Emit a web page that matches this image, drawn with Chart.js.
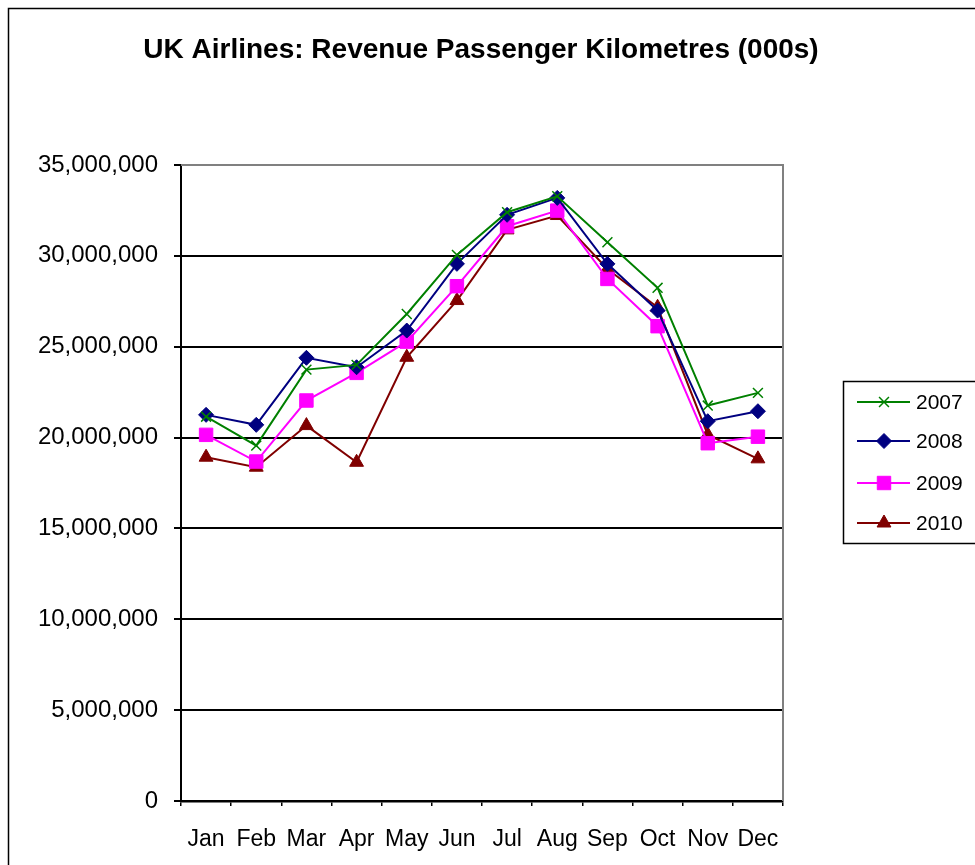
<!DOCTYPE html>
<html>
<head>
<meta charset="utf-8">
<script src="https://cdn.jsdelivr.net/npm/chart.js@4/dist/chart.umd.min.js"></script>
<style>
html,body{margin:0;padding:0;background:#fff;}
#wrap{width:975px;height:865px;position:relative;}
</style>
</head>
<body>
<div id="wrap"><canvas id="c" width="975" height="865"></canvas></div>
<script>
const titleText = "UK Airlines: Revenue Passenger Kilometres (000s)";
const months = ["Jan","Feb","Mar","Apr","May","Jun","Jul","Aug","Sep","Oct","Nov","Dec"];
const yTicks = [0, 5000000, 10000000, 15000000, 20000000, 25000000, 30000000, 35000000];
const seriesNames = ["2007","2008","2009","2010"];
const rpk2007 = [21150000,19560000,23740000,24000000,26800000,30050000,32400000,33280000,30750000,28240000,21760000,22460000];
const rpk2008 = [21250000,20700000,24390000,23870000,25890000,29560000,32260000,33190000,29560000,26990000,20900000,21450000];
const rpk2009 = [20150000,18680000,22040000,23560000,25280000,28330000,31630000,32490000,28730000,26130000,19690000,20050000];
const rpk2010 = [18920000,18370000,20660000,18640000,24420000,27540000,31430000,32220000,29280000,27170000,20160000,18830000];

const colors = ["#008000","#000080","#FF00FF","#800000"];
const styles = ["crossRot","rectRot","rect","triangle"];
const radii = [7,7.5,9.5,8];
const values = [rpk2007,rpk2008,rpk2009,rpk2010];
const FONT = '"Liberation Sans", Arial, sans-serif';

const datasets = seriesNames.map((n,i)=>({
  label:n,
  data:values[i],
  borderColor:colors[i],
  backgroundColor:colors[i],
  borderWidth:2,
  pointStyle:styles[i],
  pointRadius:radii[i],
  pointHoverRadius:radii[i],
  pointBorderWidth: i===0 ? 1.5 : 1,
  pointBorderColor:colors[i],
  pointBackgroundColor:colors[i],
  tension:0,
  fill:false
}));

const frame = {
  id:'frame',
  beforeDraw(chart){
    const ctx = chart.ctx;
    ctx.save();
    ctx.fillStyle = '#fff';
    ctx.fillRect(0,0,chart.width,chart.height);
    ctx.strokeStyle = '#000';
    ctx.lineWidth = 1.5;
    ctx.strokeRect(8.5,8.5,1200,1200);
    ctx.restore();
  },
  afterDatasetsDraw(chart){
    const ctx = chart.ctx, a = chart.chartArea;
    ctx.save();
    ctx.strokeStyle = '#808080';
    ctx.lineWidth = 2;
    ctx.beginPath();
    ctx.moveTo(a.left, a.top);
    ctx.lineTo(a.right, a.top);
    ctx.lineTo(a.right, a.bottom);
    ctx.stroke();
    ctx.restore();
  },
  afterDraw(chart){
    const ctx = chart.ctx, a = chart.chartArea;
    ctx.save();
    // title
    ctx.fillStyle = '#000';
    ctx.font = 'bold 28px ' + FONT;
    ctx.textAlign = 'center';
    ctx.textBaseline = 'alphabetic';
    ctx.fillText(titleText, (a.left + a.right) / 2 - 1, 58);
    // legend
    ctx.strokeStyle = '#000';
    ctx.lineWidth = 1.5;
    ctx.strokeRect(843.5,381.5,400,162);
    const ys = [402,441,483,523];
    chart.data.datasets.forEach((ds,i)=>{
      ctx.strokeStyle = ds.borderColor;
      ctx.lineWidth = 2;
      ctx.beginPath();
      ctx.moveTo(857, ys[i]);
      ctx.lineTo(910, ys[i]);
      ctx.stroke();
      ctx.fillStyle = ds.backgroundColor;
      ctx.lineWidth = ds.pointBorderWidth;
      Chart.helpers.drawPoint(ctx, {pointStyle: ds.pointStyle, radius: ds.pointRadius, borderWidth: ds.pointBorderWidth, rotation:0}, 884, ys[i]);
      ctx.fillStyle = '#000';
      ctx.font = '21px ' + FONT;
      ctx.textBaseline = 'middle';
      ctx.textAlign = 'left';
      ctx.fillText(ds.label, 916, ys[i]+1);
    });
    ctx.restore();
  }
};

new Chart(document.getElementById('c'), {
  type:'line',
  data:{labels:months, datasets},
  options:{
    responsive:false,
    animation:false,
    layout:{padding:{left:8,right:192,top:165,bottom:0}},
    plugins:{
      legend:{display:false},
      tooltip:{enabled:false},
      title:{display:false}
    },
    scales:{
      x:{
        offset:true,
        grid:{display:true, offset:true, drawOnChartArea:false, drawTicks:true, tickLength:5, color:'#000', lineWidth:1.5},
        border:{display:true, color:'#000', width:2.5},
        ticks:{color:'#000', padding:20, maxRotation:0, autoSkip:false,
          font:{family:FONT, size:23}},
        afterFit(s){ s.height = 64; }
      },
      y:{
        min:0, max:35000000,
        afterBuildTicks(s){ s.ticks = yTicks.map(v=>({value:v})); },
        grid:{color:(c)=> (c.tick && c.tick.value===35000000) ? '#808080' : '#000', tickColor:'#000', lineWidth:2, tickLength:7},
        border:{display:true, color:'#000', width:2},
        ticks:{color:'#000', padding:16,
          callback:(v)=>Number(v).toLocaleString('en-US'),
          font:{family:FONT, size:24}},
        afterFit(s){ s.width = 173; }
      }
    }
  },
  plugins:[frame]
});
</script>
</body>
</html>
